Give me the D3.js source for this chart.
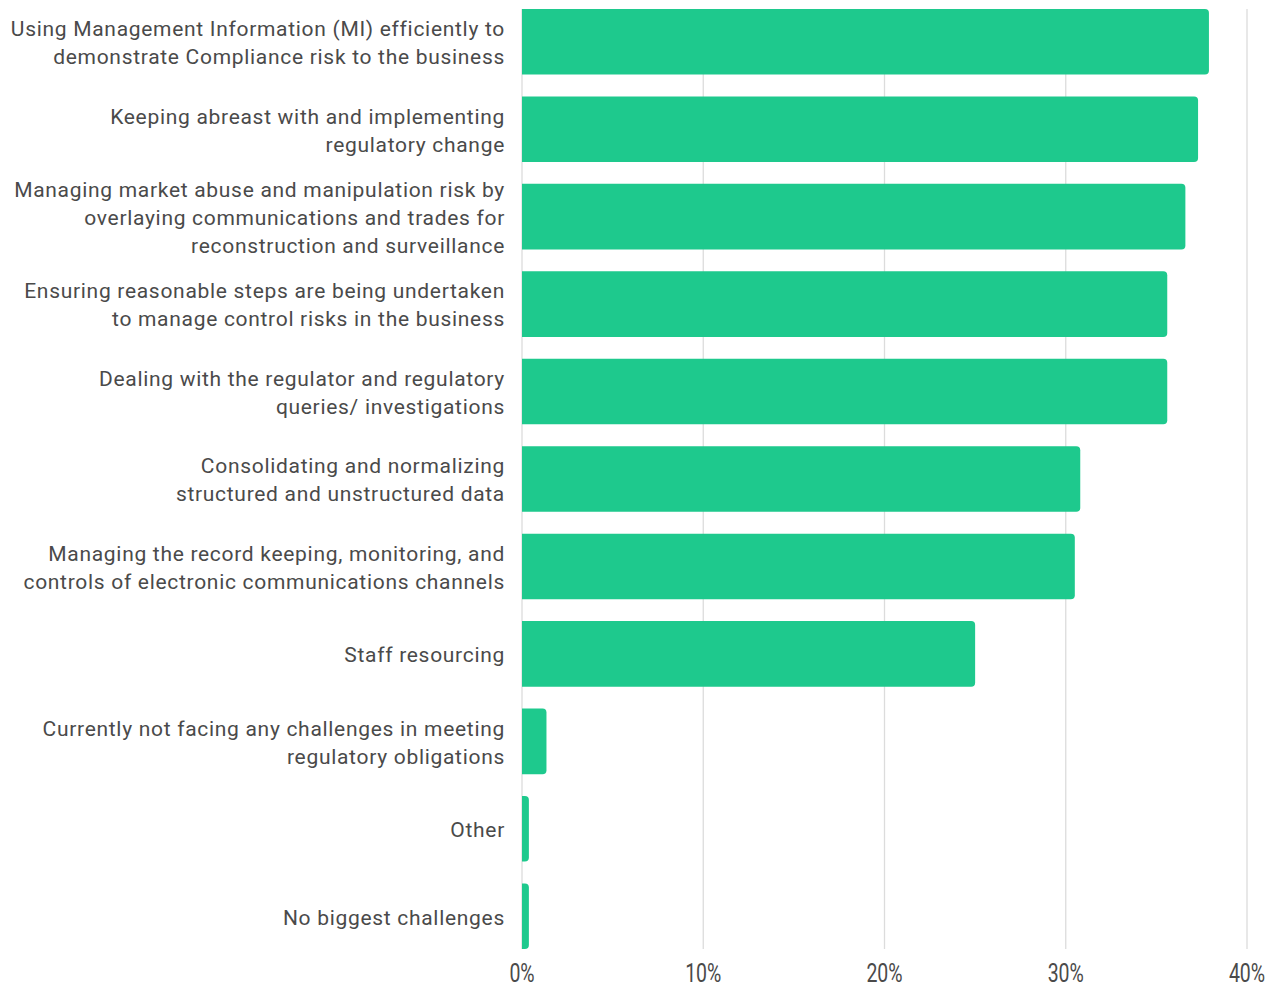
<!DOCTYPE html>
<html>
<head>
<meta charset="utf-8">
<script src="https://cdn.jsdelivr.net/npm/d3@7"></script>
<style>
  body { margin: 0; background: #fff; }
  text { font-family: Roboto, "Noto Sans", sans-serif; }
</style>
</head>
<body>
<div id="chart"></div>
<script>
// categories (each label split into its display lines)
const categories = [
  ["Using Management Information (MI) efficiently to", "demonstrate Compliance risk to the business"],
  ["Keeping abreast with and implementing", "regulatory change"],
  ["Managing market abuse and manipulation risk by", "overlaying communications and trades for", "reconstruction and surveillance"],
  ["Ensuring reasonable steps are being undertaken", "to manage control risks in the business"],
  ["Dealing with the regulator and regulatory", "queries/ investigations"],
  ["Consolidating and normalizing", "structured and unstructured data"],
  ["Managing the record keeping, monitoring, and", "controls of electronic communications channels"],
  ["Staff resourcing"],
  ["Currently not facing any challenges in meeting", "regulatory obligations"],
  ["Other"],
  ["No biggest challenges"]
];
// share of respondents, %
const values = [37.9, 37.3, 36.6, 35.6, 35.6, 30.8, 30.5, 25.0, 1.35, 0.38, 0.38];
const xTicks = [0, 10, 20, 30, 40];

const W = 1286, H = 987;
const margin = { top: 0, right: 39, bottom: 38, left: 522 };
const width = W - margin.left - margin.right,
  height = H - margin.top - margin.bottom;

const svg = d3.select("#chart").append("svg")
  .attr("width", W).attr("height", H)
  .append("g")
  .attr("transform", `translate(${margin.left},${margin.top})`);

const x = d3.scaleLinear().domain([0, 40]).range([0, width]);
const y = d3.scaleBand()
  .domain(d3.range(categories.length))
  .range([-2, 960])
  .paddingInner(0.25)
  .paddingOuter(0.125);

const top0 = y(0), bot = y(categories.length - 1) + y.bandwidth();

// gridlines
svg.append("g").selectAll("line")
  .data(xTicks)
  .join("line")
  .attr("x1", d => x(d)).attr("x2", d => x(d))
  .attr("y1", top0).attr("y2", bot)
  .attr("stroke", "#dcdcdc").attr("stroke-width", 1.3);

// bars with rounded right end
const r = 4;
svg.append("g").selectAll("path")
  .data(values)
  .join("path")
  .attr("fill", "#1ec98d")
  .attr("d", (d, i) => {
    const x0 = x(0), x1 = x(d), y0 = y(i), h = y.bandwidth();
    const rr = Math.min(r, (x1 - x0));
    return `M${x0},${y0}H${x1 - rr}Q${x1},${y0} ${x1},${y0 + rr}` +
      `V${y0 + h - rr}Q${x1},${y0 + h} ${x1 - rr},${y0 + h}H${x0}Z`;
  });

// category labels
const lh = 28;
svg.append("g").selectAll("text")
  .data(categories)
  .join("text")
  .attr("text-anchor", "end")
  .attr("fill", "#4a4a4a")
  .style("font-size", "21px")
  .style("letter-spacing", "0.7px")
  .each(function (lines, i) {
    const cy = y(i) + y.bandwidth() / 2 + 1;
    const start = cy - (lines.length - 1) * lh / 2;
    d3.select(this).selectAll("tspan")
      .data(lines)
      .join("tspan")
      .attr("x", -17)
      .attr("y", (d, j) => start + j * lh)
      .attr("dy", "0.35em")
      .text(d => d);
  });

// x axis labels (condensed look)
svg.append("g").selectAll("text")
  .data(xTicks)
  .join("text")
  .attr("x", d => x(d))
  .attr("y", 982)
  .attr("text-anchor", "middle")
  .attr("fill", "#4a4a4a")
  .style("font-size", "25px")
  .attr("transform", d => `translate(${x(d)},0) scale(0.78,1) translate(${-x(d)},0)`)
  .text(d => d + "%");
</script>
</body>
</html>
